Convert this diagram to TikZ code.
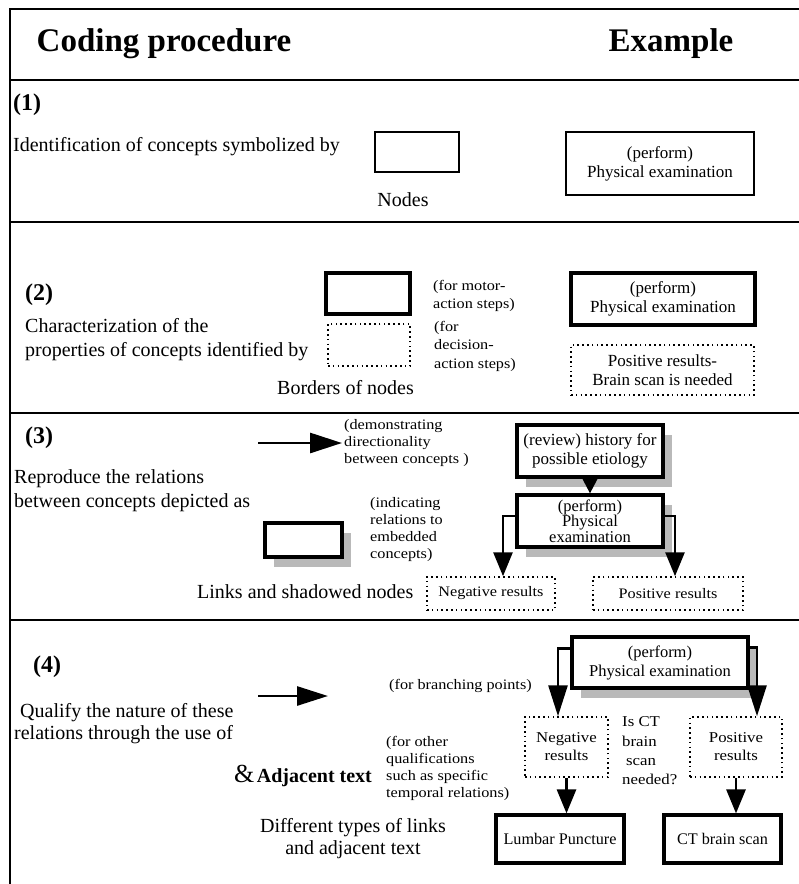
\documentclass[tikz,border=0pt]{standalone}
\usepackage{fontspec}
\setmainfont{Liberation Serif}
\newfontfamily\sfam[FakeStretch=1.12]{Liberation Serif}
\usetikzlibrary{arrows.meta,shadows}
\newcommand{\bodyf}{\fontsize{20}{24}\selectfont}
\newcommand{\smallf}{\sfam\fontsize{14.5}{18}\selectfont}
\newcommand{\boxf}{\fontsize{17}{19}\selectfont}
\newcommand{\headf}{\fontsize{33}{36}\selectfont\bfseries}
\newcommand{\numf}{\fontsize{24}{26}\selectfont\bfseries}
\begin{document}
\begin{tikzpicture}[x=1pt,y=-1pt,
  txt/.style={inner sep=0pt, font=\bodyf, align=left},
  stxt/.style={inner sep=0pt, font=\smallf, align=left},
  numlab/.style={inner sep=0pt, font=\numf, anchor=west},
  thinbox/.style={draw, line width=1.1pt, inner sep=0pt, font=\boxf, align=center},
  thickbox/.style={draw, line width=3.2pt, inner sep=0pt, font=\boxf, align=center, fill=white},
  dotbox/.style={draw, line width=1.5pt, dash pattern=on 1.6pt off 3.2pt, inner sep=0pt, font=\boxf, align=center},
  shbox/.style={thickbox, drop shadow={shadow xshift=9pt, shadow yshift=-10pt, fill=gray!55, opacity=1}},
  sepline/.style={line width=1.6pt},
  arr/.style={line width=2.8pt, -{Triangle[length=24pt,width=19pt]}},
  arrs/.style={line width=2.8pt, -{Triangle[length=18pt,width=18pt]}},
  arrl/.style={line width=2.8pt, -{Triangle[length=31pt,width=19pt]}},
  arrleg/.style={line width=2.8pt, -{Triangle[length=32pt,width=20pt]}},
]
\useasboundingbox (0,0) rectangle (799,884);
% frame and separators
\draw[line width=2.6pt] (10,884) -- (10,9) -- (799,9);
\draw[sepline] (10,80) -- (799,80);
\draw[sepline] (10,222) -- (799,222);
\draw[sepline] (10,413) -- (799,413);
\draw[sepline] (10,620) -- (799,620);
% header
\node[inner sep=0pt, font=\headf] (hcp) at (164,44) {Coding procedure};
\node[inner sep=0pt, font=\headf] (hex) at (671,44) {Example};
% section 1
\node[numlab] (n1) at (13,105) {(1)};
\node[txt, anchor=west] (t1) at (13,147) {Identification of concepts symbolized by};
\node[thinbox, minimum width=84pt, minimum height=40pt] (b1) at (417,152) {};
\node[thinbox, minimum width=188pt, minimum height=63pt] (e1) at (660,163.5) {(perform)\\Physical examination};
\node[txt] (nodes) at (403,200) {Nodes};
% section 2
\node[numlab] (n2) at (25,295) {(2)};
\node[txt, anchor=west] (t2) at (25,340) {Characterization of the\\properties of concepts identified by};
\node[thickbox, minimum width=84pt, minimum height=41pt] (b2a) at (368,293.5) {};
\node[stxt, anchor=west] (l2a) at (433,296) {(for motor-\\action steps)};
\node[dotbox, minimum width=82pt, minimum height=42pt] (b2b) at (369,345) {};
\node[stxt, anchor=west, font=\sfam\fontsize{14.5}{18.5}\selectfont] (l2b) at (434,346) {(for\\decision-\\action steps)};
\node[txt, anchor=west] (bord) at (277,388) {Borders of nodes};
\node[thickbox, minimum width=184pt, minimum height=52pt] (e2a) at (663,299) {(perform)\\Physical examination};
\node[dotbox, minimum width=183pt, minimum height=50pt] (e2b) at (662.5,370) {Positive results-\\Brain scan is needed};
% section 3
\node[numlab] (n3) at (25,438) {(3)};
\node[txt, anchor=west] (t3) at (14,491) {Reproduce the relations\\between concepts depicted as};
\coordinate (a3s) at (258,443);
\coordinate (a3e) at (342,443);
\draw[arrleg] (a3s) -- (a3e);
\node[stxt, anchor=west, font=\sfam\fontsize{14.5}{17}\selectfont] (l3a) at (344,443) {(demonstrating\\directionality\\between concepts )};
\node[shbox, minimum width=77pt, minimum height=34pt] (b3) at (303.5,540) {};
\node[stxt, anchor=west, font=\sfam\fontsize{14.5}{17}\selectfont] (l3b) at (370,530) {(indicating\\relations to\\embedded\\concepts)};
\node[txt, anchor=west] (links) at (197,592) {Links and shadowed nodes};
\node[shbox, minimum width=146pt, minimum height=52pt] (rev) at (590,451) {(review) history for\\possible etiology};
\node[shbox, minimum width=146pt, minimum height=52pt, font=\fontsize{16.5}{15.5}\selectfont] (perf3) at (590,521) {(perform)\\Physical\\examination};
\node[dotbox, minimum width=128pt, minimum height=33pt, font=\smallf] (neg3) at (491,593.5) {Negative results};
\node[dotbox, minimum width=150pt, minimum height=33pt, font=\smallf] (pos3) at (668,593.5) {Positive results};
\draw[arrs] (rev.south) -- (perf3.north);
\draw[arr, line join=miter] ([yshift=5pt]perf3.west) -| ([xshift=12pt]neg3.north);
\draw[arr, line join=miter] ([yshift=5pt]perf3.east) -| ([xshift=7pt]pos3.north);
% section 4
\node[numlab] (n4) at (33,667) {(4)};
\node[txt, anchor=west, font=\fontsize{20}{22}\selectfont] (t4) at (14,724) {\hspace{6pt}Qualify the nature of these\\relations through the use of};
\coordinate (a4s) at (258,696);
\coordinate (a4e) at (328,696);
\draw[arrl] (a4s) -- (a4e);
\node[stxt, anchor=west] (l4a) at (389,686) {(for branching points)};
\node[stxt, anchor=west, font=\sfam\fontsize{14.5}{17}\selectfont] (l4b) at (386,768) {(for other\\qualifications\\such as specific\\temporal relations)};
\node[inner sep=0pt, anchor=west] (amp) at (234,776) {{\fontsize{26}{28}\selectfont\&} {\bodyf\bfseries Adjacent text}};
\node[txt, align=center, font=\fontsize{20}{22}\selectfont] (l4c) at (353,839) {Different types of links\\and adjacent text};
\node[shbox, minimum width=176pt, minimum height=51pt, font=\fontsize{16.5}{19}\selectfont] (perf4) at (660,662.5) {(perform)\\Physical examination};
\node[dotbox, minimum width=83pt, minimum height=60pt, font=\sfam\fontsize{15}{18}\selectfont] (neg4) at (566.5,747) {Negative\\results};
\node[stxt, anchor=west, font=\sfam\fontsize{15}{19.3}\selectfont] (isct) at (622,751) {Is CT\\brain\\\hspace{4pt}scan\\needed?};
\node[dotbox, minimum width=92pt, minimum height=60pt, font=\sfam\fontsize{15}{18}\selectfont] (pos4) at (736,747) {Positive\\results};
\node[thickbox, minimum width=128pt, minimum height=48pt, font=\fontsize{16.2}{18}\selectfont] (lp) at (560,839) {Lumbar Puncture};
\node[thickbox, minimum width=117pt, minimum height=48pt, font=\fontsize{16.2}{18}\selectfont] (ctb) at (722.5,839) {CT brain scan};
\draw[arrl, line join=miter] ([yshift=14pt]perf4.west) -| ([xshift=-8.5pt]neg4.north);
\draw[arrl, line join=miter] ([yshift=15pt]perf4.east) -| ([xshift=21pt]pos4.north);
\draw[arr] (neg4.south) -- (neg4.south |- lp.north);
\draw[arr] (pos4.south) -- (pos4.south |- ctb.north);
\end{tikzpicture}
\end{document}
